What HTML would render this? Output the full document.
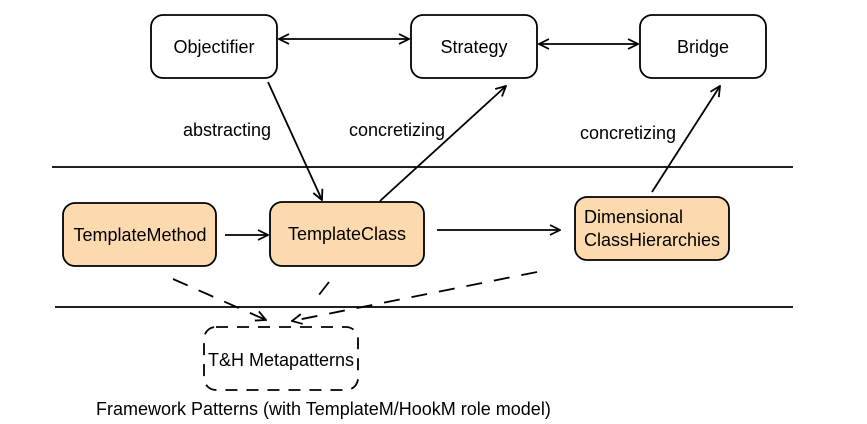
<!DOCTYPE html>
<html><head><style>body{margin:0;background:#fff}svg{display:block}text{font-family:"Liberation Sans",Arial,sans-serif;font-size:18px;fill:#000}</style></head>
<body>
<svg width="867" height="424" viewBox="0 0 867 424" xmlns="http://www.w3.org/2000/svg">
<defs>
<marker id="a" viewBox="0 0 12 12" refX="11" refY="6" markerWidth="12" markerHeight="12" markerUnits="userSpaceOnUse" orient="auto-start-reverse"><path d="M1,1 L11,6 L1,11" fill="none" stroke="#000" stroke-width="1.8"/></marker>
</defs>
<g fill="#fff" stroke="#000" stroke-width="1.8">
<rect x="151" y="15" width="126" height="63" rx="12"/>
<rect x="411" y="15" width="126" height="63" rx="12"/>
<rect x="640" y="15" width="126" height="63" rx="12"/>
</g>
<g fill="#fdd9ae" stroke="#000" stroke-width="1.8">
<rect x="63" y="203" width="153" height="63" rx="12"/>
<rect x="270" y="202" width="154" height="64" rx="12"/>
<rect x="575" y="197" width="154" height="63" rx="12"/>
</g>
<rect x="204" y="327" width="154" height="63" rx="12" fill="none" stroke="#000" stroke-width="1.8" stroke-dasharray="12,9"/>
<g stroke="#000" stroke-width="1.8">
<line x1="52" y1="167" x2="793" y2="167"/>
<line x1="55" y1="307" x2="793" y2="307"/>
<line x1="279" y1="39" x2="409" y2="39" marker-start="url(#a)" marker-end="url(#a)"/>
<line x1="539" y1="44" x2="638" y2="44" marker-start="url(#a)" marker-end="url(#a)"/>
<line x1="268" y1="82" x2="322" y2="200" marker-end="url(#a)"/>
<line x1="380" y1="201" x2="506" y2="86" marker-end="url(#a)"/>
<line x1="652" y1="192" x2="720" y2="86" marker-end="url(#a)"/>
<line x1="225" y1="235" x2="268" y2="235" marker-end="url(#a)"/>
<line x1="437" y1="230" x2="560" y2="230" marker-end="url(#a)"/>
<g stroke-dasharray="16,12">
<line x1="173" y1="279" x2="266" y2="320" marker-end="url(#a)"/>
<line x1="329" y1="282" x2="315" y2="300"/>
<line x1="537" y1="272" x2="292" y2="321" marker-end="url(#a)"/>
</g>
</g>
<text x="214" y="53" text-anchor="middle">Objectifier</text>
<text x="474" y="53" text-anchor="middle">Strategy</text>
<text x="703" y="53" text-anchor="middle">Bridge</text>
<text x="140" y="241" text-anchor="middle">TemplateMethod</text>
<text x="347" y="240" text-anchor="middle">TemplateClass</text>
<text x="584" y="223">Dimensional</text>
<text x="584" y="246">ClassHierarchies</text>
<text x="208" y="366">T&amp;H Metapatterns</text>
<text x="183" y="136">abstracting</text>
<text x="349" y="136">concretizing</text>
<text x="580" y="139">concretizing</text>
<text x="96" y="415">Framework Patterns (with TemplateM/HookM role model)</text>
</svg>
</body></html>
